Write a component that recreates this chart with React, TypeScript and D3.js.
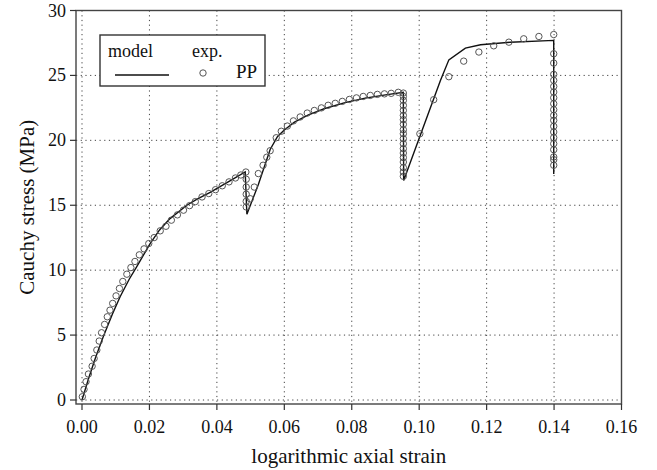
import React from "react";
import * as d3 from "d3";

// model curve (strain, stress in MPa)
const modelStrain = [
  0, 0.002, 0.004, 0.0063, 0.009, 0.0113, 0.014, 0.0162, 0.0202, 0.023, 0.0261,
  0.0311, 0.034, 0.038, 0.044, 0.0484, 0.0489, 0.0523, 0.0558, 0.058, 0.06,
  0.063, 0.067, 0.072, 0.078, 0.084, 0.09, 0.0953, 0.0954, 0.1063, 0.1088,
  0.1137, 0.1182, 0.127, 0.1399, 0.1399,
];
const modelStress = [
  0, 1.7, 3.25, 4.87, 6.6, 7.95, 9.3, 10.25, 12.05, 13.1, 13.97, 15.0, 15.45,
  16.0, 16.9, 17.56, 14.3, 16.6, 19.3, 20.3, 20.8, 21.4, 21.95, 22.45, 22.9,
  23.25, 23.5, 23.7, 16.9, 24.6, 26.2, 27.1, 27.36, 27.56, 27.7, 17.4,
];

// experimental points (PP)
const expStrain = [
  0.0001, 0.0006, 0.0012, 0.0019, 0.003, 0.0036, 0.0044, 0.0051, 0.0058, 0.0067,
  0.0075, 0.0083, 0.0091, 0.0101, 0.0111, 0.0121, 0.0133, 0.0145, 0.0157, 0.017,
  0.0184, 0.0198, 0.0214, 0.0232, 0.0249, 0.0265, 0.0283, 0.0301, 0.0319,
  0.0336, 0.0356, 0.0376, 0.0396, 0.0416, 0.0436, 0.0455, 0.0471, 0.0486,
  // first relaxation
  0.0487, 0.0487, 0.0487, 0.0487, 0.0487,
  // reloading
  0.0499, 0.0511, 0.0523, 0.0537, 0.0548, 0.0558, 0.0576, 0.0591, 0.0609,
  0.0627, 0.0647, 0.0668, 0.0689, 0.071, 0.073, 0.0751, 0.0772, 0.0793, 0.0814,
  0.0834, 0.0855, 0.0876, 0.0897, 0.0917, 0.0938, 0.0953,
  // second relaxation
  0.0953, 0.0953, 0.0953, 0.0953, 0.0953, 0.0953, 0.0953, 0.0953, 0.0953,
  0.0953, 0.0953, 0.0953, 0.0953, 0.0953, 0.0953, 0.0953, 0.0953, 0.0953,
  // reloading
  0.1002, 0.1043, 0.1088, 0.1132, 0.1177, 0.1221, 0.1266, 0.131, 0.1355, 0.1399,
  // third relaxation
  0.1399, 0.1399, 0.1399, 0.1399, 0.1399, 0.1399, 0.1399, 0.1399, 0.1399,
  0.1399, 0.1399, 0.1399, 0.1399, 0.1399, 0.1399, 0.1399, 0.1399, 0.1399,
  0.1399,
];
const expStress = [
  0.25, 0.82, 1.41, 2.0, 2.6, 3.2, 3.85, 4.54, 5.18, 5.82, 6.41, 6.92, 7.44,
  8.02, 8.59, 9.13, 9.69, 10.2, 10.67, 11.18, 11.64, 12.05, 12.51, 13.03, 13.38,
  13.85, 14.26, 14.62, 14.97, 15.28, 15.64, 15.9, 16.2, 16.5, 16.8, 17.1, 17.33,
  17.56,
  17.0, 16.4, 15.85, 15.3, 14.87,
  15.5, 16.4, 17.44, 18.08, 18.7, 19.2, 20.2, 20.7, 21.1, 21.5, 21.8, 22.1,
  22.3, 22.5, 22.7, 22.85, 23.0, 23.15, 23.27, 23.38, 23.46, 23.54, 23.58,
  23.62, 23.7, 23.64,
  23.38, 23.08, 22.69, 22.31, 21.92, 21.59, 21.23, 20.82, 20.51, 20.13, 19.74,
  19.36, 19.02, 18.67, 18.33, 17.9, 17.56, 17.23,
  20.51, 23.13, 24.9, 26.1, 26.8, 27.28, 27.56, 27.82, 28.0, 28.15,
  26.67, 25.95, 25.08, 24.62, 24.15, 23.72, 23.28, 22.82, 22.36, 21.92, 21.54,
  21.08, 20.64, 20.21, 19.74, 19.28, 18.72, 18.51, 18.08,
];

const xTicks = [0, 0.02, 0.04, 0.06, 0.08, 0.1, 0.12, 0.14, 0.16];
const yTicks = [0, 5, 10, 15, 20, 25, 30];

export default function App() {
  const width = 657;
  const height = 470;
  // frame of the plot
  const left = 76;
  const right = 621.5;
  const top = 10.5;
  const bottom = 404;

  const x = d3.scaleLinear().domain([0, 0.16]).range([82, 621.5]);
  const y = d3.scaleLinear().domain([0, 30]).range([400, 10.5]);

  const line = d3
    .line<number>()
    .x((d, i) => x(modelStrain[i]))
    .y((d) => y(d));

  const font = "'Liberation Serif', 'Times New Roman', serif";
  const grid = "#444";

  return (
    <svg
      width={width}
      height={height}
      style={{ position: "absolute", left: 0, top: 0, background: "#fff" }}
      fontFamily={font}
    >
      {/* grid */}
      {xTicks
        .filter((t) => x(t) < right - 1)
        .map((t) => (
          <line
            key={"gx" + t}
            x1={x(t)}
            x2={x(t)}
            y1={top}
            y2={bottom}
            stroke={grid}
            strokeWidth={1}
            strokeDasharray="1.2,3.5"
          />
        ))}
      {yTicks
        .filter((t) => y(t) > top + 1)
        .map((t) => (
          <line
            key={"gy" + t}
            x1={left}
            x2={right}
            y1={y(t)}
            y2={y(t)}
            stroke={grid}
            strokeWidth={1}
            strokeDasharray="1.2,3.5"
          />
        ))}

      {/* model */}
      <path
        d={line(modelStress) || ""}
        fill="none"
        stroke="#111"
        strokeWidth={1.4}
      />

      {/* experiment */}
      {expStrain.map((s, i) => (
        <circle
          key={"e" + i}
          cx={x(s)}
          cy={y(expStress[i])}
          r={3.2}
          fill="none"
          stroke="#555"
          strokeWidth={1}
        />
      ))}

      {/* frame */}
      <rect
        x={left}
        y={top}
        width={right - left}
        height={bottom - top}
        fill="none"
        stroke="#444"
        strokeWidth={1.4}
      />

      {/* ticks */}
      {xTicks.map((t) => (
        <g key={"xt" + t}>
          <line x1={x(t)} x2={x(t)} y1={bottom} y2={bottom + 6} stroke="#333" strokeWidth={1.2} />
          <text x={x(t)} y={433} textAnchor="middle" fontSize={18} fill="#111">
            {d3.format(".2f")(t)}
          </text>
        </g>
      ))}
      {yTicks.map((t) => (
        <g key={"yt" + t}>
          <line x1={left - 6} x2={left} y1={y(t)} y2={y(t)} stroke="#333" strokeWidth={1.2} />
          <text x={66} y={y(t) + 6} textAnchor="end" fontSize={18} fill="#111">
            {t}
          </text>
        </g>
      ))}

      {/* axis titles */}
      <text x={(left + right) / 2} y={463} textAnchor="middle" fontSize={21} fill="#111">
        logarithmic axial strain
      </text>
      <text
        transform={`translate(34,${(top + bottom) / 2}) rotate(-90)`}
        textAnchor="middle"
        fontSize={21}
        fill="#111"
      >
        Cauchy stress (MPa)
      </text>

      {/* legend */}
      <g>
        <rect x={100} y={35} width={165} height={51} fill="#fff" stroke="#333" strokeWidth={1.4} />
        <text x={108} y={57} fontSize={18} fill="#111">model</text>
        <text x={192} y={57} fontSize={18} fill="#111">exp.</text>
        <line x1={115} x2={169} y1={75} y2={75} stroke="#111" strokeWidth={1.4} />
        <circle cx={203} cy={73} r={3.2} fill="none" stroke="#555" strokeWidth={1} />
        <text x={236} y={78} fontSize={19} fill="#111">PP</text>
      </g>
    </svg>
  );
}
